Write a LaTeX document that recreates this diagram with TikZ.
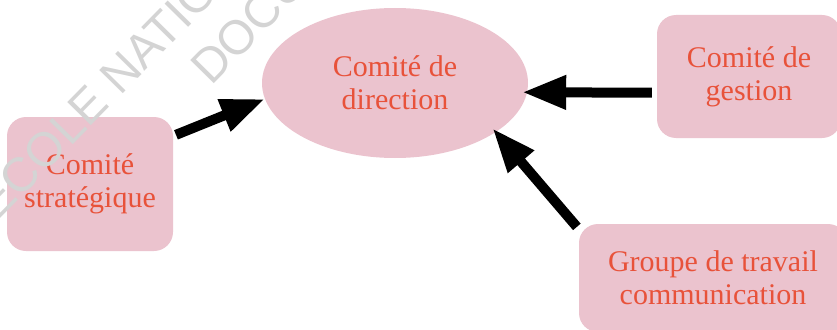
\documentclass[tikz,border=0pt]{standalone}
\usepackage{fontspec}
\setmainfont{Liberation Serif}
\newfontfamily\filigranefont{Liberation Sans}
\usetikzlibrary{arrows.meta,shapes.geometric}
\definecolor{rose}{RGB}{235,195,206}
\definecolor{texte}{RGB}{232,82,58}
\definecolor{gris}{RGB}{212,212,212}

\begin{document}
\begin{tikzpicture}[x=1pt, y=-1pt,
		boite/.style={fill=rose, rounded corners=19pt, text=texte, align=center, inner sep=0pt, font=\fontsize{30}{33}\selectfont},
		fleche/.style={line width=10pt, -{Triangle[length=44pt, width=32pt]}},
		filigrane/.style={text=gris, rotate=45.5, anchor=base west, inner sep=0pt, font=\filigranefont\fontsize{48}{48}\selectfont}]
		\useasboundingbox (0,0) rectangle (837,329);
		\clip (0,0) rectangle (837,329);
		\node[boite, minimum width=166pt, minimum height=134pt] (strat) at (90,184) {Comité\\stratégique};
		\node[boite, ellipse, minimum width=266pt, minimum height=150pt] (dir) at (395,83) {Comité de\\direction};
		\node[boite, minimum width=184pt, minimum height=123pt] (gestion) at (749,76.5) {Comité de\\gestion};
		\node[boite, minimum width=268pt, minimum height=108pt] (groupe) at (713,278) {Groupe de travail\\communication};
		\draw[fleche, shorten <=3pt] (strat.30) -- (dir.187);
		\draw[fleche, shorten <=5pt, shorten >=-5pt] (gestion.190) -- (dir.-4);
		\draw[fleche, shorten <=3pt, shorten >=-5pt] (groupe.160) -- (dir.-26);
		\node[filigrane] (ecole) at (-3,222) {ECOLE NATIONALE};
		\node[filigrane] (docu) at (211,87) {DOCUMENT};
	\end{tikzpicture}
\end{document}
